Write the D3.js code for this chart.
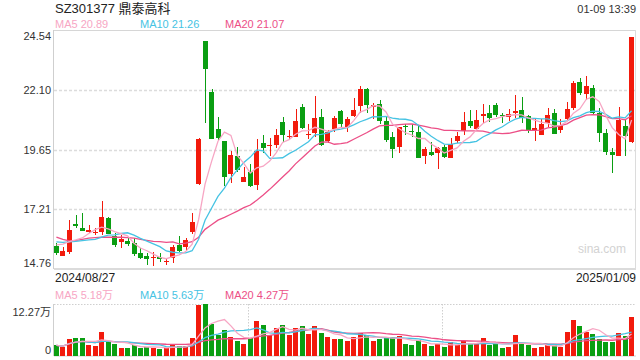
<!DOCTYPE html>
<html><head><meta charset="utf-8">
<script src="https://cdn.jsdelivr.net/npm/d3@7"></script>
<style>body{margin:0;background:#fff}svg{display:block}text{font-family:"Liberation Sans",Arial,"Noto Sans CJK SC",sans-serif}</style>
</head><body><svg id="c" width="640" height="360"></svg>
<script>
const title = "SZ301377 鼎泰高科";
const stamp = "01-09 13:39";
const xLabels = ["2024/08/27", "2025/01/09"];
const yTicks = [24.54, 22.10, 19.65, 17.21, 14.76];
const volTicks = [12.27, 0];
const maLegend = ["MA5 20.89", "MA10 21.26", "MA20 21.07"];
const volLegend = ["MA5 5.18万", "MA10 5.63万", "MA20 4.27万"];

const open = [15.70,15.31,15.47,16.59,16.44,16.29,16.23,16.29,16.83,16.11,
15.85,15.92,15.81,15.40,15.29,15.22,15.27,15.03,15.22,15.74,
15.67,16.27,18.24,24.10,22.02,20.49,20.00,18.65,19.38,18.32,
18.72,18.20,19.90,19.81,19.84,20.78,20.16,20.18,21.38,20.26,
20.31,20.97,20.00,20.50,21.23,20.58,21.02,21.43,22.11,21.40,
21.51,20.82,20.15,19.77,20.63,20.42,20.37,19.40,19.55,19.52,
19.77,19.32,20.00,20.41,20.82,20.49,21.02,21.13,21.47,21.06,
20.99,21.16,21.27,21.02,20.45,20.24,20.72,21.13,20.45,20.89,
21.36,22.43,21.92,22.15,21.13,20.34,19.56,19.38,20.61,19.94];
const high = [15.81,15.67,16.77,16.97,17.07,16.56,16.42,17.54,16.87,16.22,
16.15,16.06,16.02,15.61,15.40,15.47,15.40,15.20,15.74,16.13,
16.02,17.05,20.11,24.10,22.11,20.99,20.00,19.59,19.74,18.92,
19.06,20.08,20.24,20.11,20.48,20.97,20.45,21.30,21.50,20.68,
21.84,21.32,20.45,21.02,21.27,20.97,21.74,22.25,22.18,21.57,
21.68,20.97,20.35,20.58,20.69,20.69,20.61,19.77,19.97,19.77,
19.83,20.13,20.35,21.19,21.27,21.27,21.50,21.47,21.57,21.13,
21.29,21.87,21.79,21.06,20.89,20.89,21.34,21.31,20.89,21.61,
22.47,22.56,22.66,22.29,21.34,20.48,19.73,21.40,20.86,24.24];
const low = [15.33,15.28,15.38,16.43,16.30,16.22,16.15,16.15,16.18,15.67,
15.61,15.70,15.29,15.18,14.92,14.88,15.06,14.92,14.99,15.47,
15.51,16.19,18.20,20.72,20.09,20.04,18.17,18.29,18.74,18.32,
18.13,17.99,19.49,19.38,19.70,19.97,20.04,20.15,20.49,20.07,
20.15,19.79,19.90,20.38,20.58,20.38,20.97,21.13,21.13,20.89,
20.69,19.97,19.29,19.52,20.24,20.15,19.32,19.06,19.38,18.84,
19.29,19.29,19.90,20.24,20.52,20.45,20.72,20.78,20.97,20.72,
20.83,20.93,20.72,20.31,19.99,20.23,20.56,20.30,20.34,20.83,
21.27,21.88,21.68,21.09,19.97,19.43,18.68,19.38,19.38,19.90];
const close = [15.43,15.51,16.36,16.53,16.33,16.34,16.29,16.87,16.19,15.74,
15.97,15.80,15.37,15.22,15.18,15.27,15.16,15.07,15.67,15.51,
15.95,16.68,20.08,22.96,20.09,20.13,18.54,19.41,18.81,18.53,
18.16,19.60,19.73,19.85,20.24,20.26,20.20,20.82,20.54,20.30,
20.93,19.82,20.38,20.94,20.68,20.89,21.27,22.11,21.47,21.47,
20.83,20.04,19.66,20.56,20.58,20.38,19.32,19.67,19.44,19.73,
19.36,19.86,20.20,20.78,20.63,20.86,21.09,20.95,21.06,21.01,
21.10,21.24,20.93,20.45,20.52,20.69,21.06,20.30,20.63,21.31,
22.39,21.95,22.25,21.13,20.34,19.56,19.44,20.86,20.20,24.24];
const volume = [2.5,2.2,4.0,4.3,4.2,2.5,2.3,5.6,3.5,2.8,
2.0,1.8,2.6,2.0,2.2,2.0,1.6,1.8,2.6,2.4,
2.3,4.2,12.0,12.27,7.6,5.0,6.1,4.6,3.5,2.8,
4.2,8.3,7.3,5.0,6.7,7.3,5.0,6.6,7.1,5.2,
7.1,5.4,4.5,4.0,4.0,3.5,4.5,5.5,5.0,3.5,
4.0,4.2,4.5,4.8,2.8,2.5,3.8,2.8,2.3,2.8,
2.2,3.2,2.6,3.5,2.8,2.9,4.3,2.6,2.8,2.0,
2.2,5.0,3.0,2.6,2.0,2.2,2.8,2.5,2.1,5.7,
8.5,7.1,5.7,5.2,3.9,3.2,3.2,5.5,4.7,9.3];
// MA values before a full window exists
const ma5Head = [15.75,15.78,15.88,15.95];
const ma10Head = [15.87,15.85,15.87,15.89,15.92,15.95,15.97,16.06,16.15];
const ma20Head = [16.06,15.97,15.91,15.93,15.97,16.02,16.04,16.06,16.06,16.06,16.06,16.04,16.02,15.97,15.93,15.89,15.88,15.85,15.87];

const UP = "#f21a0c", DOWN = "#0a9e12";
const C5 = "#f7a6c4", C10 = "#46c3e3", C20 = "#ec4f87";

const N = close.length;
function ma(arr, n, head) {
  return arr.map((_, i) => i < n - 1 ? (head ? head[i] : d3.mean(arr.slice(0, i + 1))) : d3.mean(arr.slice(i - n + 1, i + 1)));
}

const svg = d3.select("#c");
const L = 54, R = 636, T = 30, B = 269, VT = 304, VB = 356;
const x = d3.scaleBand().domain(d3.range(N)).range([L, 634]).paddingInner(0.25);
const y = d3.scaleLinear().domain([yTicks[4], yTicks[0]]).range([B, T]);
const yv = d3.scaleLinear().domain([0, volTicks[0]]).range([VB, VT]);
const bw = x.bandwidth();
const cx = i => Math.round(x(i) + bw / 2) + 0.5;

// header
svg.append("text").attr("x", 55).attr("y", 13).attr("font-size", 13).attr("fill", "#222").text(title);
svg.append("text").attr("x", 636).attr("y", 13).attr("text-anchor", "end").attr("font-size", 11).attr("fill", "#333").text(stamp);
[C5, C10, C20].forEach((c, k) => {
  svg.append("text").attr("x", 55 + k * 85).attr("y", 28).attr("font-size", 11).attr("fill", c).text(maLegend[k]);
  svg.append("text").attr("x", 55 + k * 85).attr("y", 299).attr("font-size", 11).attr("fill", c).text(volLegend[k]);
});

// grid and frame
const grid = svg.append("g");
yTicks.slice(1, 4).forEach(v => {
  grid.append("line").attr("x1", L).attr("x2", R).attr("y1", Math.round(y(v)) + 0.5).attr("y2", Math.round(y(v)) + 0.5)
    .attr("stroke", "#dcdcdc").attr("stroke-width", 1.5).attr("stroke-dasharray", "3,2");
});
grid.append("line").attr("x1", L).attr("x2", R).attr("y1", T + 0.5).attr("y2", T + 0.5).attr("stroke", "#d6d6d6");
grid.append("line").attr("x1", L).attr("x2", R).attr("y1", B).attr("y2", B).attr("stroke", "#cfcfcf").attr("stroke-width", 1.5);
grid.append("line").attr("x1", L - 0.5).attr("x2", L - 0.5).attr("y1", T).attr("y2", B).attr("stroke", "#cfcfcf");
grid.append("line").attr("x1", R - 0.5).attr("x2", R - 0.5).attr("y1", T).attr("y2", B).attr("stroke", "#dcdcdc");
// volume frame
grid.append("line").attr("x1", L).attr("x2", R).attr("y1", VT + 0.5).attr("y2", VT + 0.5)
  .attr("stroke", "#cfcfcf").attr("stroke-dasharray", "1.5,1.5");
grid.append("line").attr("x1", L - 0.5).attr("x2", L - 0.5).attr("y1", VT).attr("y2", VB).attr("stroke", "#cfcfcf");
grid.append("line").attr("x1", L).attr("x2", R).attr("y1", VB).attr("y2", VB).attr("stroke", "#cfcfcf");
[1, 2].forEach(k => {
  const xv = Math.round(L + (R - L) * k / 3) + 0.5;
  grid.append("line").attr("x1", xv).attr("x2", xv).attr("y1", VT).attr("y2", VB)
    .attr("stroke", "#cfcfcf").attr("stroke-dasharray", "1.5,1.5");
});

// watermark
svg.append("text").attr("x", 602).attr("y", 253).attr("text-anchor", "middle").attr("font-size", 12).attr("fill", "#d2d2d2").text("sina.com");

// y axis
const ax = svg.append("g").attr("transform", `translate(51,0)`)
  .call(d3.axisLeft(y).tickValues(yTicks).tickSize(0).tickPadding(0).tickFormat(d3.format(".2f")));
ax.select(".domain").remove();
ax.selectAll("text").attr("font-size", 11).attr("fill", "#333").attr("font-family", '"Liberation Sans",Arial,sans-serif')
  .attr("dy", (d, i) => i === 0 ? "0.85em" : i === yTicks.length - 1 ? "-0.25em" : "0.32em");

const vax = svg.append("g").attr("transform", `translate(51,0)`)
  .call(d3.axisLeft(yv).tickValues(volTicks).tickSize(0).tickPadding(0).tickFormat(d => d === 0 ? "0" : d3.format(".2f")(d) + "万"));
vax.select(".domain").remove();
vax.selectAll("text").attr("font-size", 11).attr("fill", "#333").attr("font-family", '"Liberation Sans",Arial,"Noto Sans CJK SC",sans-serif')
  .attr("dy", (d, i) => i === 0 ? "1.05em" : "-0.25em");

// x labels
svg.append("text").attr("x", 55).attr("y", 282).attr("font-size", 12).attr("fill", "#222").text(xLabels[0]);
svg.append("text").attr("x", 636).attr("y", 282).attr("text-anchor", "end").attr("font-size", 12).attr("fill", "#222").text(xLabels[1]);

// candles
const idx = d3.range(N);
const col = i => close[i] >= open[i] ? UP : DOWN;
const cg = svg.append("g").attr("shape-rendering", "crispEdges");
cg.selectAll("line.w").data(idx).join("line")
  .attr("x1", cx).attr("x2", cx).attr("y1", i => y(high[i])).attr("y2", i => y(low[i]))
  .attr("stroke", col).attr("stroke-width", 1);
cg.selectAll("rect.b").data(idx).join("rect")
  .attr("x", i => Math.round(x(i))).attr("width", Math.round(bw))
  .attr("y", i => y(Math.max(open[i], close[i])))
  .attr("height", i => Math.max(1, Math.abs(y(open[i]) - y(close[i]))))
  .attr("fill", col);

// MA lines
const m5 = ma(close, 5, ma5Head), m10 = ma(close, 10, ma10Head), m20 = ma(close, 20, ma20Head);
const line = d3.line().x((d, i) => x(i) + bw / 2).y(d => y(d));
[[m20, C20], [m10, C10], [m5, C5]].forEach(([d, c]) => {
  svg.append("path").datum(d).attr("d", line).attr("fill", "none").attr("stroke", c).attr("stroke-width", 1.3);
});

// volume bars
const vg = svg.append("g").attr("shape-rendering", "crispEdges");
vg.selectAll("rect").data(idx).join("rect")
  .attr("x", i => Math.round(x(i))).attr("width", Math.round(bw))
  .attr("y", i => yv(volume[i])).attr("height", i => VB - yv(volume[i]))
  .attr("fill", col);
const v5 = ma(volume, 5), v10 = ma(volume, 10), v20 = ma(volume, 20);
const vline = d3.line().x((d, i) => x(i) + bw / 2).y(d => yv(d));
[[v20, C20], [v10, C10], [v5, C5]].forEach(([d, c]) => {
  svg.append("path").datum(d).attr("d", vline).attr("fill", "none").attr("stroke", c).attr("stroke-width", 1.3);
});
</script></body></html>
